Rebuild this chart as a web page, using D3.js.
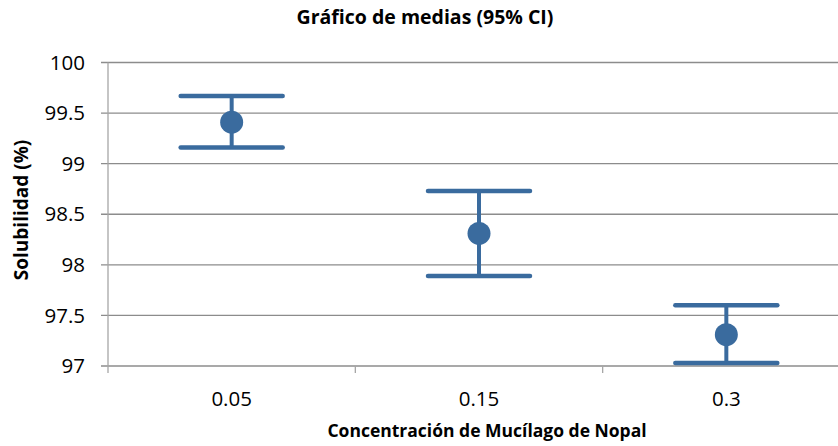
<!DOCTYPE html>
<html>
<head>
<meta charset="utf-8">
<script src="https://cdn.jsdelivr.net/npm/d3@7"></script>
<style>
  html, body { margin: 0; padding: 0; background: #fff; }
  svg { display: block; font-family: "Open Sans", "Liberation Sans", sans-serif; }
</style>
</head>
<body>
<svg id="chart" width="838" height="446"></svg>
<script>
// Concentración de mucílago de nopal vs. solubilidad media con IC 95%
const categories = ["0.05", "0.15", "0.3"];
const means = [99.41, 98.31, 97.31];
const upper = [99.67, 98.73, 97.60];
const lower = [99.16, 97.89, 97.03];
const yTicks = [97, 97.5, 98, 98.5, 99, 99.5, 100];

const svg = d3.select("#chart");
const plotLeft = 108, plotRight = 850, plotTop = 62.5, plotBottom = 366;
const blue = "#3A6B9E";

const x = d3.scaleBand().domain(categories).range([plotLeft, plotRight]);
const y = d3.scaleLinear().domain([97, 100]).range([plotBottom, plotTop]);

// horizontal gridlines with short outside ticks
svg.append("g").selectAll("line").data(yTicks).join("line")
  .attr("x1", plotLeft - 7).attr("x2", plotRight)
  .attr("y1", d => y(d)).attr("y2", d => y(d))
  .attr("stroke", "#8C8C8C").attr("stroke-width", 1.3);

// y axis line
svg.append("line")
  .attr("x1", plotLeft).attr("x2", plotLeft).attr("y1", plotTop).attr("y2", plotBottom + 7)
  .attr("stroke", "#A6A6A6").attr("stroke-width", 1.3);

// category boundary ticks on the x axis
svg.append("g").selectAll("line").data(categories.slice(1)).join("line")
  .attr("x1", d => x(d)).attr("x2", d => x(d))
  .attr("y1", plotBottom).attr("y2", plotBottom + 7)
  .attr("stroke", "#A6A6A6").attr("stroke-width", 1.3);

// y tick labels
svg.append("g").selectAll("text").data(yTicks).join("text")
  .attr("x", 85).attr("y", d => y(d))
  .attr("dy", "0.35em").attr("text-anchor", "end")
  .attr("font-size", 20.5).attr("fill", "#000")
  .text(d => d);

// x tick labels
svg.append("g").selectAll("text").data(categories).join("text")
  .attr("x", d => x(d) + x.bandwidth() / 2).attr("y", 406)
  .attr("text-anchor", "middle")
  .attr("font-size", 20.5).attr("fill", "#000")
  .text(d => d);

// error bars and mean markers
const capHalf = 51;
const g = svg.append("g");
categories.forEach((c, i) => {
  const cx = x(c) + x.bandwidth() / 2;
  g.append("line")
    .attr("x1", cx).attr("x2", cx).attr("y1", y(upper[i])).attr("y2", y(lower[i]))
    .attr("stroke", blue).attr("stroke-width", 4);
  [upper[i], lower[i]].forEach(v => {
    g.append("line")
      .attr("x1", cx - capHalf).attr("x2", cx + capHalf)
      .attr("y1", y(v)).attr("y2", y(v))
      .attr("stroke", blue).attr("stroke-width", 4.5).attr("stroke-linecap", "round");
  });
  g.append("circle")
    .attr("cx", cx).attr("cy", y(means[i])).attr("r", 11.5)
    .attr("fill", blue);
});

// titles
svg.append("text")
  .attr("x", 425).attr("y", 24).attr("text-anchor", "middle")
  .attr("font-size", 19.5).attr("font-weight", "bold").attr("fill", "#000")
  .text("Gráfico de medias (95% CI)");

svg.append("text")
  .attr("x", 487).attr("y", 437).attr("text-anchor", "middle")
  .attr("font-size", 17.5).attr("font-weight", "bold").attr("fill", "#000")
  .text("Concentración de Mucílago de Nopal");

svg.append("text")
  .attr("transform", "translate(28,210) rotate(-90)")
  .attr("text-anchor", "middle")
  .attr("font-size", 19).attr("font-weight", "bold").attr("fill", "#000")
  .text("Solubilidad (%)");
</script>
</body>
</html>
